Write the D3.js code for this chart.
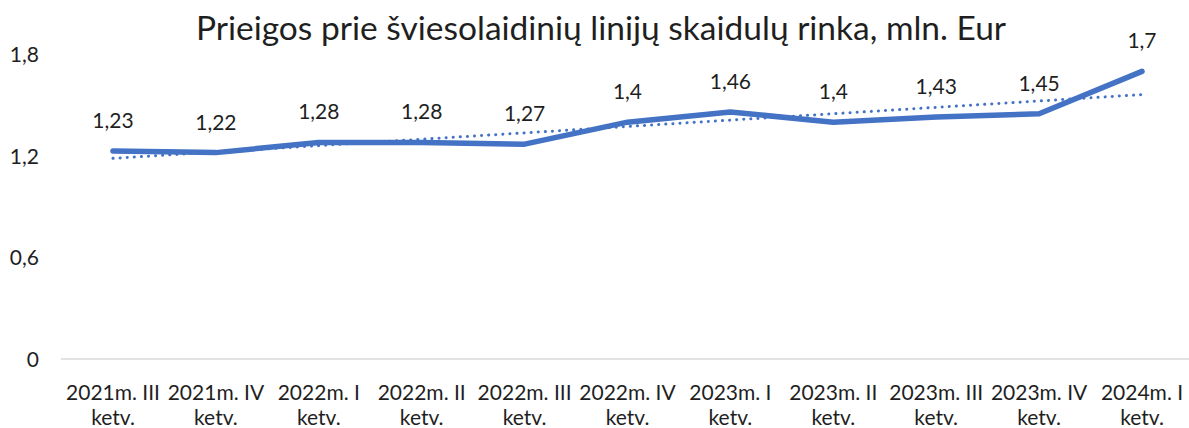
<!DOCTYPE html>
<html><head><meta charset="utf-8">
<script src="https://cdn.jsdelivr.net/npm/d3@7"></script>
<style>
html,body{margin:0;padding:0;background:#fff;}
svg text{font-family:"Lato","Noto Sans",sans-serif;fill:#1f1f1f;}
</style></head>
<body>
<svg id="chart" width="1189" height="428"></svg>
<script>
const categories = ["2021m. III ketv.","2021m. IV ketv.","2022m. I ketv.","2022m. II ketv.","2022m. III ketv.","2022m. IV ketv.","2023m. I ketv.","2023m. II ketv.","2023m. III ketv.","2023m. IV ketv.","2024m. I ketv."];
const values = [1.23,1.22,1.28,1.28,1.27,1.4,1.46,1.4,1.43,1.45,1.7];
const valueLabels = ["1,23","1,22","1,28","1,28","1,27","1,4","1,46","1,4","1,43","1,45","1,7"];
const trendValues = [1.186,1.563]; // linear trendline at first and last category
const yTicks = [0,0.6,1.2,1.8];
const yTickLabels = ["0","0,6","1,2","1,8"];
const title = "Prieigos prie šviesolaidinių linijų skaidulų rinka, mln. Eur";

const svg = d3.select("#chart");
const x = d3.scalePoint().domain(categories).range([113,1142]);
const y = d3.scaleLinear().domain([0,1.8]).range([359,54.5]);

svg.append("text").attr("x",601).attr("y",40).attr("text-anchor","middle")
  .style("font-size","33.5px").text(title);

// baseline gridline
svg.append("line").attr("x1",61).attr("x2",1189).attr("y1",y(0)).attr("y2",y(0))
  .attr("stroke","#d9d9d9").attr("stroke-width",1.5);

// y axis labels
svg.append("g").selectAll("text").data(yTicks).join("text")
  .attr("x",39).attr("y",d=>y(d)+7.5).attr("text-anchor","end")
  .style("font-size","21px").text((d,i)=>yTickLabels[i]);

// x axis labels
const xl = svg.append("g").selectAll("text").data(categories).join("text")
  .attr("text-anchor","middle").style("font-size","21px");
xl.append("tspan").attr("x",d=>x(d)).attr("y",399.5).text(d=>d.replace(" ketv.",""));
xl.append("tspan").attr("x",d=>x(d)).attr("y",424.5).text("ketv.");

// trendline
svg.append("path")
  .datum([[categories[0],trendValues[0]],[categories[categories.length-1],trendValues[1]]])
  .attr("d",d3.line().x(d=>x(d[0])).y(d=>y(d[1])))
  .attr("fill","none").attr("stroke","#4472C4").attr("stroke-width",3)
  .attr("stroke-dasharray","0.1 7").attr("stroke-linecap","round");

// main line
svg.append("path").datum(values)
  .attr("d",d3.line().x((d,i)=>x(categories[i])).y(d=>y(d)))
  .attr("fill","none").attr("stroke","#4472C4").attr("stroke-width",5.5)
  .attr("stroke-linejoin","round").attr("stroke-linecap","round");

// data labels
svg.append("g").selectAll("text").data(values).join("text")
  .attr("x",(d,i)=>x(categories[i])).attr("y",d=>y(d)-23)
  .attr("text-anchor","middle").style("font-size","21px")
  .text((d,i)=>valueLabels[i]);
</script>
</body></html>
